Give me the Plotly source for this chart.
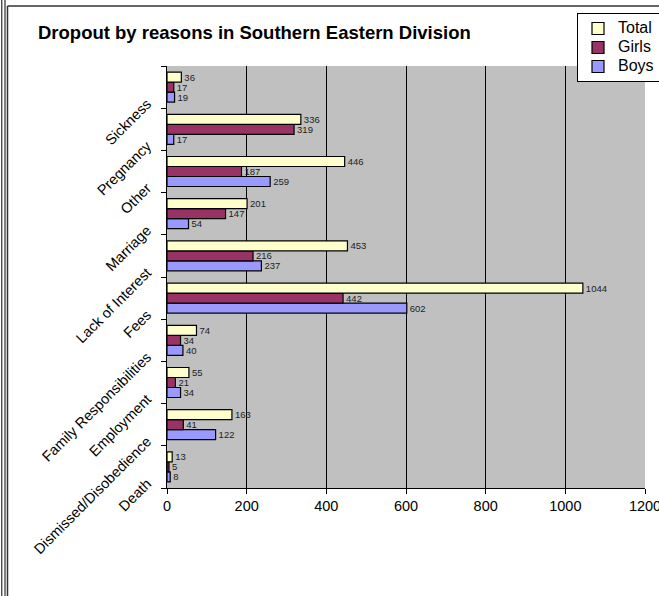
import plotly.graph_objects as go

categories = ["Death", "Dismissed/Disobedience", "Employment", "Family Responsibilities",
              "Fees", "Lack of Interest", "Marriage", "Other", "Pregnancy", "Sickness"]
boys = [8, 122, 34, 40, 602, 237, 54, 259, 17, 19]
girls = [5, 41, 21, 34, 442, 216, 147, 187, 319, 17]
total = [13, 163, 55, 74, 1044, 453, 201, 446, 336, 36]
series_names = ["Boys", "Girls", "Total"]
x_ticks = [0, 200, 400, 600, 800, 1000, 1200]
title_text = "Dropout by reasons in Southern Eastern Division"

W, H = 659, 596
L, R, T, B = 167, 14, 66, 108
PW, PH = W - L - R, H - T - B


def px_x(p):
    return (p - L) / PW


def px_y(p):
    return (H - B - p) / PH


FONT = "Arial, Liberation Sans, sans-serif"

fig = go.Figure()
colors = ["#9999FF", "#993366", "#FFFFCC"]
for name, vals, col in zip(series_names, [boys, girls, total], colors):
    fig.add_trace(go.Bar(
        y=categories, x=vals, orientation="h",
        name="<span style='font-size:16px'>" + name + "</span>",
        marker=dict(color=col, line=dict(color="black", width=1.2)),
        text=[str(v) for v in vals], textposition="outside", constraintext="none",
        textfont=dict(family=FONT, size=9.5, color="#222222"),
        cliponaxis=False,
    ))

line_style = dict(color="black", width=1)
shapes = [
    dict(type="line", xref="paper", yref="paper", x0=px_x(1.8), x1=px_x(1.8), y0=px_y(0), y1=px_y(H), line=line_style),
    dict(type="line", xref="paper", yref="paper", x0=px_x(5), x1=px_x(5), y0=px_y(0), y1=px_y(H), line=line_style),
    dict(type="line", xref="paper", yref="paper", x0=px_x(7.5), x1=px_x(7.5), y0=px_y(6), y1=px_y(H), line=dict(color="#333333", width=1.5)),
    dict(type="line", xref="paper", yref="paper", x0=px_x(7.5), x1=px_x(W), y0=px_y(6), y1=px_y(6), line=dict(color="#333333", width=1.5)),
]

fig.update_layout(
    width=W, height=H,
    margin=dict(l=L, r=R, t=T, b=B, autoexpand=False),
    paper_bgcolor="white", plot_bgcolor="#C0C0C0",
    barmode="group", bargap=0.29, bargroupgap=0,
    font=dict(family=FONT, color="black"),
    title=dict(text="<b>" + title_text + "</b>", xref="container", yref="container",
               x=38 / W, xanchor="left", y=1 - 33 / H, yanchor="middle",
               font=dict(family=FONT, size=18.5, color="black")),
    showlegend=True,
    legend=dict(xref="container", yref="container", x=577 / W, y=1 - 13 / H,
                xanchor="left", yanchor="top",
                traceorder="reversed", bgcolor="white", bordercolor="black", borderwidth=1,
                font=dict(family=FONT, size=12, color="black")),
    xaxis=dict(range=[0, 1200], tickvals=x_ticks, ticktext=[str(v) for v in x_ticks],
               automargin=False, ticklabeloverflow="allow",
               showgrid=True, gridcolor="black", gridwidth=1, zeroline=False,
               showline=True, linecolor="black", linewidth=1,
               ticks="outside", ticklen=5, tickcolor="black",
               tickfont=dict(family=FONT, size=14.5, color="black")),
    yaxis=dict(categoryorder="array", categoryarray=categories, automargin=False,
               ticklabeloverflow="allow",
               showgrid=False, zeroline=False, showline=True, linecolor="black", linewidth=1,
               ticks="outside", ticklen=5, tickcolor="black", tickson="boundaries",
               tickangle=-45, ticklabelshift=15, ticklabelstandoff=16,
               tickfont=dict(family=FONT, size=14.5, color="black")),
    shapes=shapes,
)

fig.write_html("out.html", config={"displayModeBar": False},
               post_script="document.body.style.margin='0';document.body.style.overflow='hidden';")
